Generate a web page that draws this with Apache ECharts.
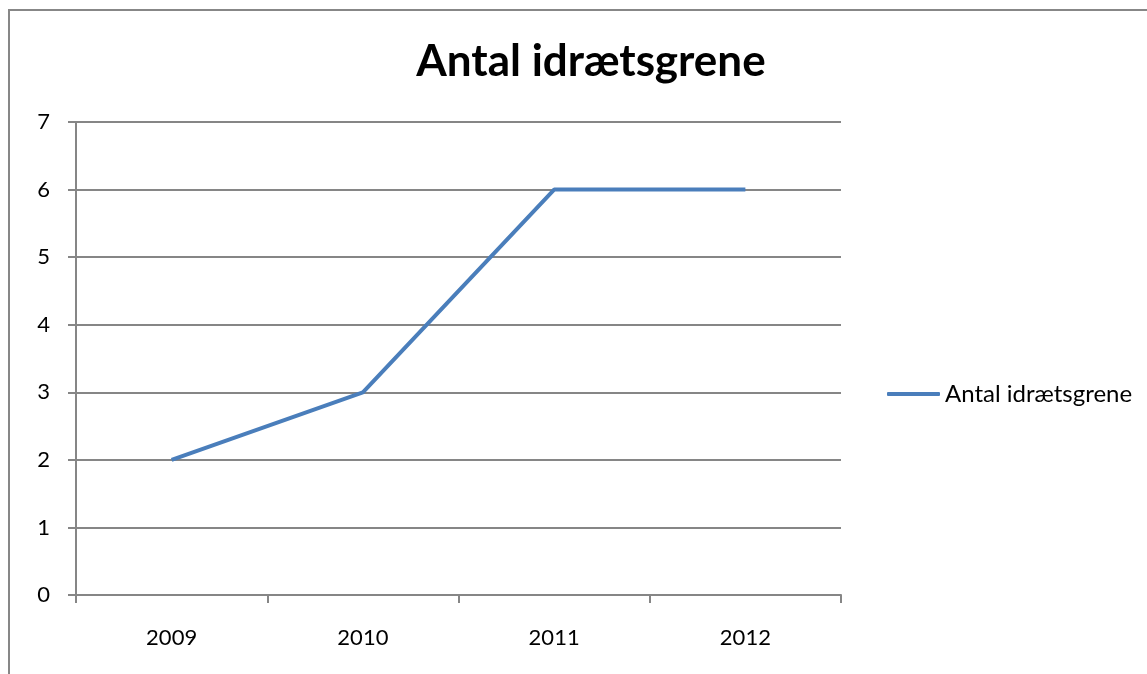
<!DOCTYPE html>
<html>
<head>
<meta charset="utf-8">
<script src="https://cdn.jsdelivr.net/npm/echarts@6/dist/echarts.min.js"></script>
<style>
  html, body { margin: 0; padding: 0; background: #fff; }
  #main { width: 1147px; height: 674px; }
</style>
</head>
<body>
<div id="main"></div>
<script>
var years = ['2009', '2010', '2011', '2012'];
var antal = [2, 3, 6, 6];
var seriesName = 'Antal idrætsgrene';

var chart = echarts.init(document.getElementById('main'));
var font = 'Lato, "Open Sans", sans-serif';

var option = {
  backgroundColor: '#fff',
  animation: false,
  title: {
    text: 'Antal idrætsgrene',
    left: 586,
    top: 35,
    textAlign: 'center',
    textStyle: { fontFamily: font, fontSize: 44, fontWeight: 'bold', color: '#000' }
  },
  graphic: [{
    type: 'rect',
    shape: { x: 9, y: 10, width: 1200, height: 700 },
    style: { fill: 'none', stroke: '#878787', lineWidth: 2 },
    silent: true
  }],
  legend: {
    data: [seriesName],
    left: 882,
    top: 377,
    icon: 'roundRect',
    itemWidth: 53,
    itemHeight: 4,
    textStyle: { fontFamily: font, fontSize: 24, color: '#000' }
  },
  grid: { left: 76, right: 306, top: 122, bottom: 79 },
  xAxis: {
    type: 'category',
    data: years,
    boundaryGap: true,
    axisLine: { lineStyle: { color: '#868686', width: 2 } },
    axisTick: { show: true, length: 8, lineStyle: { color: '#868686', width: 2 } },
    axisLabel: { margin: 32, fontFamily: font, fontSize: 22, color: '#000' }
  },
  yAxis: {
    type: 'value',
    min: 0,
    max: 7,
    interval: 1,
    axisLine: { show: true, lineStyle: { color: '#868686', width: 2 } },
    axisTick: { show: true, length: 8, lineStyle: { color: '#868686', width: 2 } },
    splitLine: { lineStyle: { color: '#868686', width: 2 } },
    axisLabel: { margin: 26, fontFamily: font, fontSize: 22, color: '#000' }
  },
  series: [{
    name: seriesName,
    type: 'line',
    data: antal,
    showSymbol: false,
    symbol: 'none',
    color: '#4a7ebb',
    lineStyle: { width: 4, color: '#4a7ebb' }
  }]
};

chart.setOption(option);
</script>
</body>
</html>
